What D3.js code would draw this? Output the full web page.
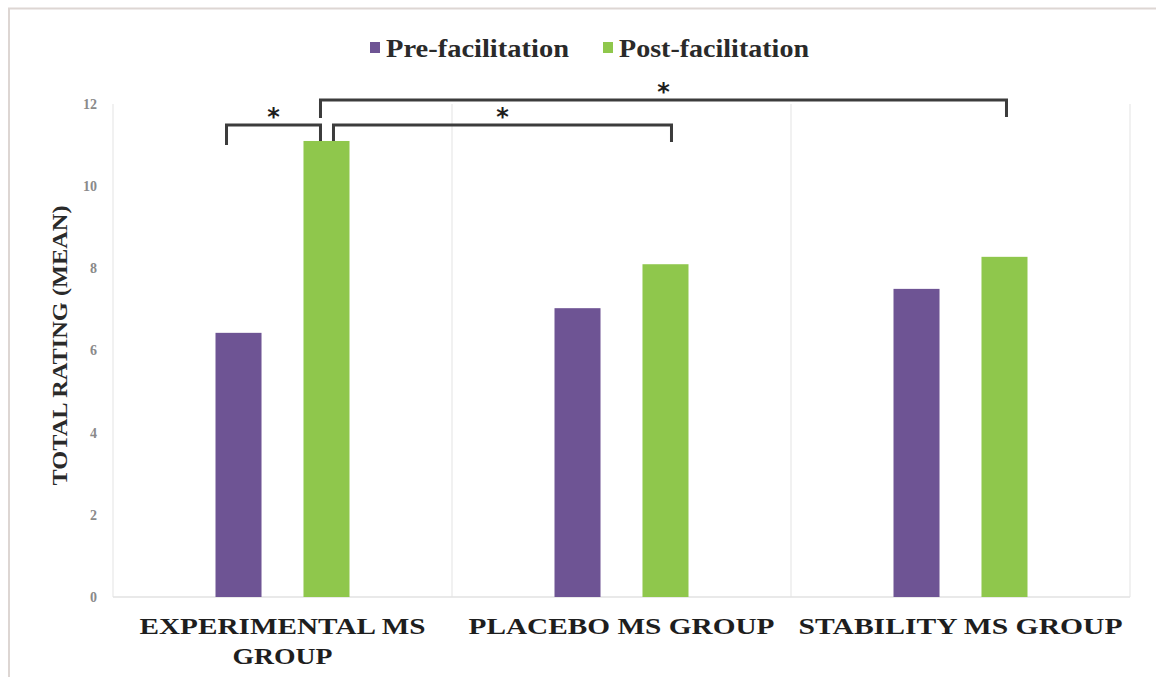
<!DOCTYPE html>
<html><head><meta charset="utf-8">
<script src="https://cdn.jsdelivr.net/npm/d3@7/dist/d3.min.js"></script>
<style>body{margin:0;background:#fff}svg{display:block}</style>
</head><body>
<svg id="c" width="1156" height="677"></svg>
<script>
const categories = ["EXPERIMENTAL MS GROUP", "PLACEBO MS GROUP", "STABILITY MS GROUP"];
const categoryLines = [["EXPERIMENTAL MS", "GROUP"], ["PLACEBO MS GROUP"], ["STABILITY MS GROUP"]];
const seriesNames = ["Pre-facilitation", "Post-facilitation"];
const preValues = [6.43, 7.03, 7.5];
const postValues = [11.1, 8.1, 8.28];
const yTicks = [0, 2, 4, 6, 8, 10, 12];
const colors = ["#6e5494", "#8fc74c"];
// significance brackets: [fromCategory, fromSeries, toCategory, toSeries]
const brackets = [
  {from: [0, 0], to: [0, 1], level: 0},
  {from: [0, 1], to: [1, 1], level: 0},
  {from: [0, 1], to: [2, 1], level: 1}
];

const svg = d3.select("#c");
const W = 1156, H = 677;
const m = {left: 113, right: 26, top: 104, bottom: 80};
const x0 = d3.scaleBand().domain(categories).range([m.left, W - m.right]).padding(0);
const x1 = d3.scaleBand().domain(seriesNames).range([0, x0.bandwidth()]).paddingInner(0.477).paddingOuter(1.165);
const y = d3.scaleLinear().domain([0, 12]).range([H - m.bottom, m.top]);

// frame
svg.append("path").attr("d", `M9,${H} V8.5 H${W}`).attr("fill", "none").attr("stroke", "#ddd6d3").attr("stroke-width", 2);

// grid / separators
svg.append("g").selectAll("line").data(d3.range(categories.length + 1)).join("line")
  .attr("x1", i => m.left + i * x0.bandwidth()).attr("x2", i => m.left + i * x0.bandwidth())
  .attr("y1", y(12)).attr("y2", y(0)).attr("stroke", "#ececec").attr("stroke-width", 1.5);
svg.append("line").attr("x1", m.left).attr("x2", W - m.right).attr("y1", y(0)).attr("y2", y(0))
  .attr("stroke", "#e2e2e2").attr("stroke-width", 1.5);

// y axis
const ya = d3.axisLeft(y).tickValues(yTicks).tickSize(0).tickPadding(16);
const yg = svg.append("g").attr("transform", `translate(${m.left},0)`).call(ya);
yg.select(".domain").remove();
yg.selectAll("text").attr("font-family", "Liberation Serif").attr("font-size", 14).attr("font-weight", "bold").attr("fill", "#8a8a8a");

svg.append("text").attr("transform", `translate(67,${(y(0) + y(12)) / 2 - 5}) rotate(-90)`)
  .attr("text-anchor", "middle").attr("font-family", "Liberation Serif").attr("font-weight", "bold")
  .attr("font-size", 20).attr("fill", "#2a2a2a")
  .attr("textLength", 280).attr("lengthAdjust", "spacingAndGlyphs").text("TOTAL RATING (MEAN)");

// bars
const data = categories.map((c, i) => ({c, vals: [preValues[i], postValues[i]]}));
const g = svg.append("g");
g.selectAll("g").data(data).join("g").attr("transform", d => `translate(${x0(d.c)},0)`)
  .selectAll("rect").data(d => d.vals.map((v, j) => ({s: seriesNames[j], v, j}))).join("rect")
  .attr("x", d => x1(d.s)).attr("width", x1.bandwidth())
  .attr("y", d => y(d.v)).attr("height", d => y(0) - y(d.v)).attr("fill", d => colors[d.j]);

// category labels
const labelWidths = [[286, 100], [306], [324]];
const xa = svg.append("g");
categoryLines.forEach((lines, i) => {
  const cx = x0(categories[i]) + x0.bandwidth() / 2;
  lines.forEach((ln, k) => {
    xa.append("text").attr("x", cx).attr("y", 634 + k * 30).attr("text-anchor", "middle")
      .attr("font-family", "Liberation Serif").attr("font-weight", "bold").attr("font-size", 23)
      .attr("textLength", labelWidths[i][k]).attr("lengthAdjust", "spacingAndGlyphs")
      .attr("fill", "#1e1e1e").text(ln);
  });
});

// legend
const lg = svg.append("g");
const legendX = [370, 603];
seriesNames.forEach((s, i) => {
  lg.append("rect").attr("x", legendX[i]).attr("y", 42).attr("width", 10).attr("height", 11).attr("fill", colors[i]);
  lg.append("text").attr("x", legendX[i] + 16).attr("y", 57).attr("font-family", "Liberation Serif")
    .attr("font-size", 26).attr("font-weight", "bold").attr("fill", "#2a2a2a")
    .attr("textLength", i === 0 ? 183 : 190).attr("lengthAdjust", "spacingAndGlyphs").text(s);
});

// significance brackets
const barX = (ci, si) => x0(categories[ci]) + x1(seriesNames[si]) + x1.bandwidth() / 2;
const barTop = (ci, si) => y(si === 0 ? preValues[ci] : postValues[ci]);
const bg = svg.append("g").attr("fill", "none").attr("stroke", "#3c3c3c").attr("stroke-width", 3);
const stars = svg.append("g");
brackets.forEach(b => {
  let xa_ = barX(b.from[0], b.from[1]);
  let xb_ = barX(b.to[0], b.to[1]);
  let yl = b.level === 0 ? 125 : 100;
  let xl, xr, yLeftEnd, yRightEnd;
  if (b.level === 0 && b.from[0] === b.to[0]) { xl = xa_ - 12; xr = xb_ - 6; yLeftEnd = 145; yRightEnd = barTop(b.to[0], b.to[1]); }
  else if (b.level === 0) { xl = xa_ + 7; xr = xb_ + 6; yLeftEnd = barTop(b.from[0], b.from[1]); yRightEnd = 142; }
  else { xl = xa_ - 6; xr = xb_ + 2; yLeftEnd = 118; yRightEnd = 117; }
  bg.append("path").attr("d", `M${xl},${yLeftEnd} V${yl} H${xr} V${yRightEnd}`);
  stars.append("text").attr("x", (xl + xr) / 2).attr("y", yl - 0).attr("text-anchor", "middle")
    .attr("font-family", "DejaVu Sans").attr("font-weight", "bold").attr("font-size", 24).attr("fill", "#1e1e1e").text("*");
});
</script>
</body></html>
